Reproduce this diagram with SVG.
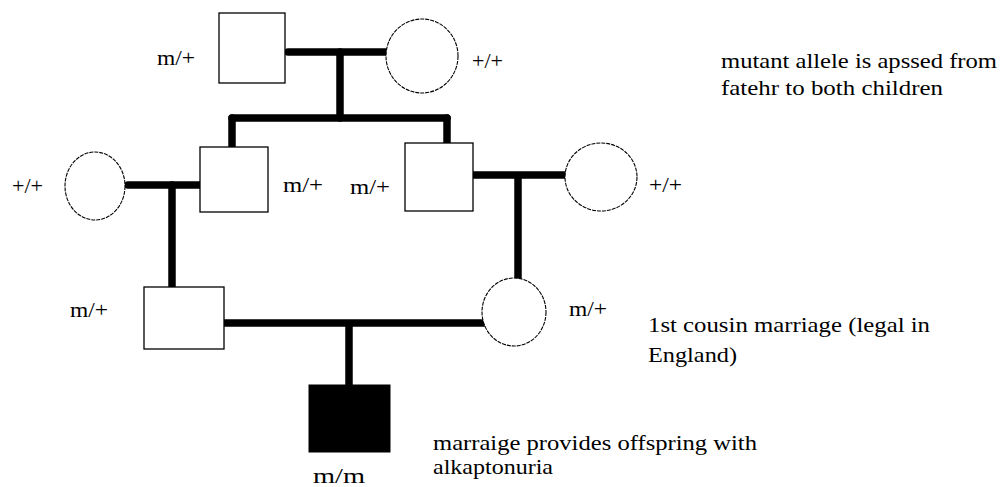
<svg xmlns="http://www.w3.org/2000/svg" width="1003" height="487" viewBox="0 0 1003 487">
<style>
.sq{fill:#fff;stroke:#000;stroke-width:1.3}
.ci{fill:#fff;stroke:#000;stroke-width:1.1;stroke-dasharray:4 1}
.aff{fill:#000;stroke:#000;stroke-width:1}
.ln{stroke:#000;stroke-width:7.5;stroke-linecap:round;fill:none}
.t{font-family:'Liberation Serif','Times New Roman',serif;font-size:21px;fill:#000}
</style>
<rect width="1003" height="487" fill="#fff"/>
<g id="connectors">
<line class="ln" x1="288" y1="52" x2="387" y2="52"/>
<line class="ln" x1="340" y1="52" x2="340" y2="118"/>
<line class="ln" x1="232" y1="118" x2="447" y2="118"/>
<line class="ln" x1="232" y1="118" x2="232" y2="146"/>
<line class="ln" x1="447" y1="118" x2="447" y2="142"/>
<line class="ln" x1="128" y1="185" x2="200" y2="185"/>
<line class="ln" x1="172" y1="185" x2="172" y2="286"/>
<line class="ln" x1="474" y1="175" x2="566" y2="175"/>
<line class="ln" x1="518" y1="178" x2="518" y2="281"/>
<line class="ln" x1="225" y1="323" x2="487" y2="323"/>
<line class="ln" x1="349" y1="324" x2="349" y2="385"/>
</g>
<g id="gen1-father"><rect class="sq" x="219" y="13" width="66" height="70"/><text class="t" font-family="Liberation Serif, serif" x="157" y="65" textLength="38" lengthAdjust="spacingAndGlyphs">m/+</text></g>
<g id="gen1-mother"><ellipse class="ci" cx="422" cy="56" rx="36" ry="37"/><text class="t" font-family="Liberation Serif, serif" x="472" y="68" textLength="31" lengthAdjust="spacingAndGlyphs">+/+</text></g>
<g id="gen2-wife-left"><ellipse class="ci" cx="95" cy="186" rx="30" ry="34"/><text class="t" font-family="Liberation Serif, serif" x="12" y="193" textLength="31" lengthAdjust="spacingAndGlyphs">+/+</text></g>
<g id="gen2-son-left"><rect class="sq" x="200" y="147" width="68" height="65"/><text class="t" font-family="Liberation Serif, serif" x="283" y="192" textLength="40" lengthAdjust="spacingAndGlyphs">m/+</text></g>
<g id="gen2-son-right"><rect class="sq" x="405" y="143" width="68" height="68"/><text class="t" font-family="Liberation Serif, serif" x="350" y="194" textLength="40" lengthAdjust="spacingAndGlyphs">m/+</text></g>
<g id="gen2-wife-right"><ellipse class="ci" cx="601" cy="177" rx="36" ry="34"/><text class="t" font-family="Liberation Serif, serif" x="649" y="192" textLength="33" lengthAdjust="spacingAndGlyphs">+/+</text></g>
<g id="gen3-male"><rect class="sq" x="144" y="287" width="80" height="62"/><text class="t" font-family="Liberation Serif, serif" x="70" y="317" textLength="38" lengthAdjust="spacingAndGlyphs">m/+</text></g>
<g id="gen3-female"><ellipse class="ci" cx="514" cy="312" rx="32" ry="34"/><text class="t" font-family="Liberation Serif, serif" x="569" y="316" textLength="38" lengthAdjust="spacingAndGlyphs">m/+</text></g>
<g id="gen4-affected"><rect class="aff" x="309" y="385" width="81" height="67"/><text class="t" font-family="Liberation Serif, serif" x="313" y="483" textLength="52" lengthAdjust="spacingAndGlyphs">m/m</text></g>
<g id="notes">
<text class="t" font-family="Liberation Serif, serif" x="721" y="68" textLength="276" lengthAdjust="spacingAndGlyphs">mutant allele is apssed from</text>
<text class="t" font-family="Liberation Serif, serif" x="721" y="95" textLength="222" lengthAdjust="spacingAndGlyphs">fatehr to both children</text>
<text class="t" font-family="Liberation Serif, serif" x="648" y="332" textLength="282" lengthAdjust="spacingAndGlyphs">1st cousin marriage (legal in</text>
<text class="t" font-family="Liberation Serif, serif" x="648" y="362" textLength="89" lengthAdjust="spacingAndGlyphs">England)</text>
<text class="t" font-family="Liberation Serif, serif" x="433" y="450" textLength="324" lengthAdjust="spacingAndGlyphs">marraige provides offspring with</text>
<text class="t" font-family="Liberation Serif, serif" x="433" y="474" textLength="120" lengthAdjust="spacingAndGlyphs">alkaptonuria</text>
</g>
</svg>
